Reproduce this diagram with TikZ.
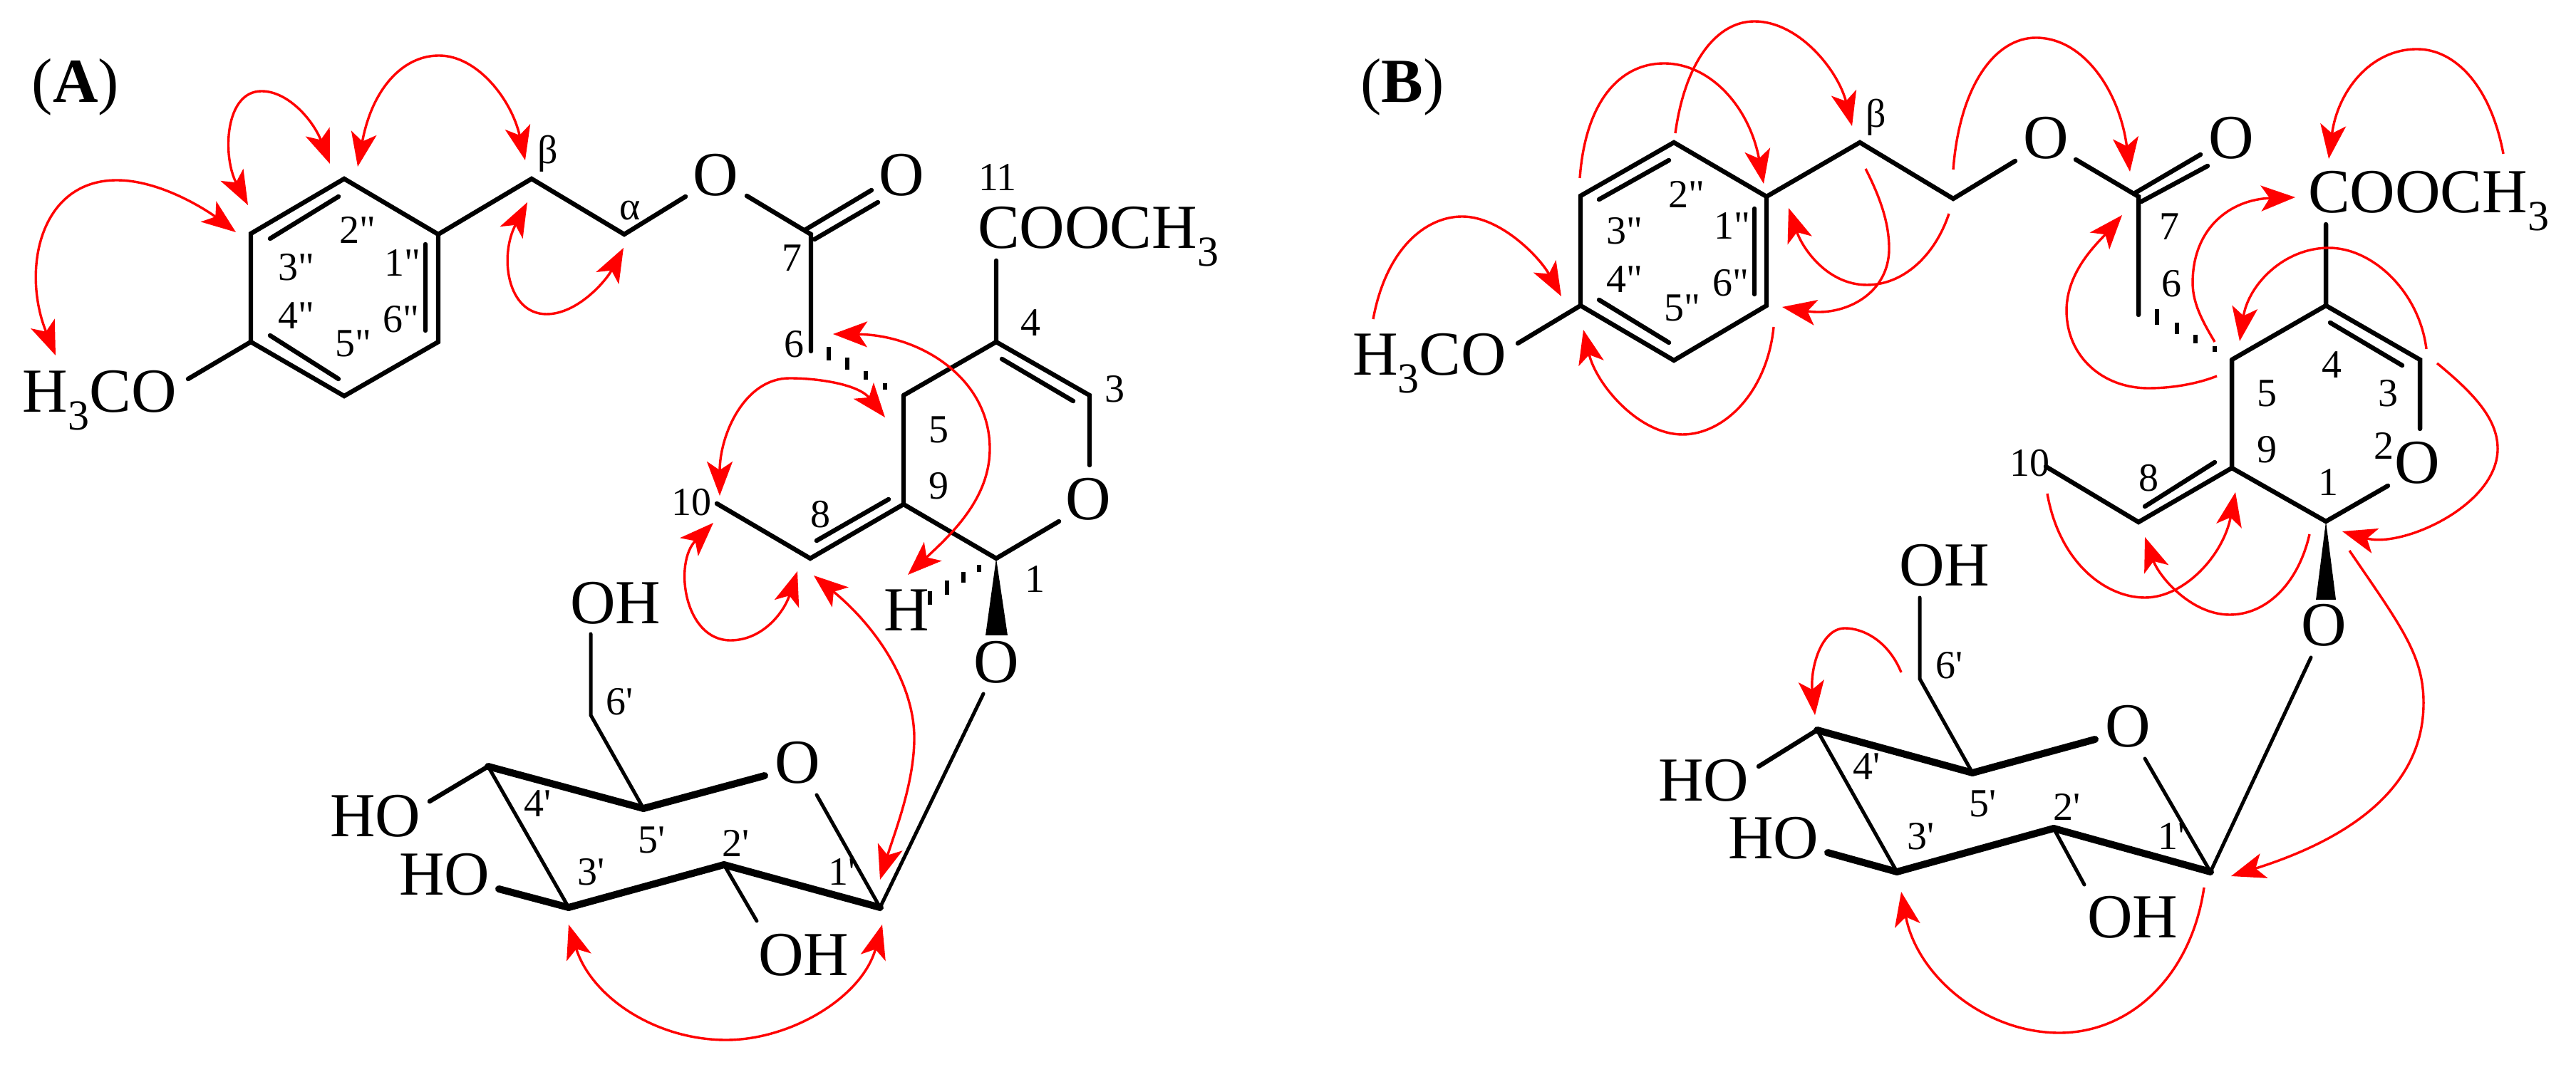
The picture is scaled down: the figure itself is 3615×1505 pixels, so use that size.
\documentclass[tikz,border=0pt]{standalone}
\usepackage{fontspec}
\usetikzlibrary{arrows.meta}
\newfontfamily\chemfont{Liberation Serif}
\newcommand{\subthree}{\raisebox{-0.28em}{\fontsize{15}{15}\selectfont 3}}
\tikzset{
  atom/.style={font=\chemfont\fontsize{22}{22}\selectfont,inner sep=0pt,outer sep=0pt},
  formula/.style={atom,anchor=base west},
  num/.style={font=\chemfont\fontsize{14}{14}\selectfont,inner sep=0pt,outer sep=0pt},
  bond/.style={draw=black,line width=1.6pt,line join=miter,line cap=round},
  thinbond/.style={draw=black,line width=1.25pt,line cap=round},
  boldbond/.style={draw=black,line width=2.5pt,line cap=round,line join=round},
  hash/.style={draw=black,line width=1.3pt},
  wedgebond/.style={fill=black,draw=none},
  onehead/.style={draw=red,line width=0.85pt,-{Stealth[length=12pt,width=9pt,inset=3pt]}},
  twohead/.style={draw=red,line width=0.85pt,{Stealth[length=12pt,width=9pt,inset=3pt]}-{Stealth[length=12pt,width=9pt,inset=3pt]}}
}
\begin{document}
\begin{tikzpicture}[x=0.25pt,y=-0.25pt]
\useasboundingbox (0,0) rectangle (3615,1505);
% ============ PANEL A ============
\node[atom] (Alab) at (106,122) {(\textbf{A})};
\foreach \n/\x/\y in {ar1/615/329,ar2/483/251,ar3/352/328,ar4/352/480,ar5/483/556,ar6/615/480,
  ab/746/251,aa/876/329,ac7/1138/329,ac6/1138/493,ac4/1398/480,ac3/1529/555,ac5/1268/555,ac9/1268/708,
  ac1/1398/784,ac8/1137/784,ac10/1006/707,
  as1/1235/1274,as2/1016/1214,as3/798/1274,as4/685/1076,as5/903/1135,as6/829/1004,
  ai1a/379/335,ai1b/475/276,ai2a/597/343,ai2b/597/464,ai3a/379/471,ai3b/475/532,
  aome/264/532,aoe1/962/276,aoe2/1048/275,aco1a/1131/322,aco1b/1223/267,aco2a/1143/336,aco2b/1232/284,
  acoo/1398/366,ai4a/1406/504,ai4b/1506/563,ao2a/1529/653,ao2b/1486/732,ai8a/1247/701,ai8b/1146/759,
  agl/1380/974,aso1/1073/1089,aso2/1146/1116,aoh6/829/890,aoh4/603/1125,aoh3/700/1248,aoh2/1062/1293,
  awl/1383/892,awr/1414/892}
  {\coordinate (\n) at (\x,\y);}
\draw[bond] (ar1)--(ar2)--(ar3)--(ar4)--(ar5)--(ar6)--cycle;
\draw[bond] (ai1a)--(ai1b) (ai2a)--(ai2b) (ai3a)--(ai3b) (ar4)--(aome);
\draw[bond] (ar1)--(ab)--(aa)--(aoe1) (aoe2)--(ac7)--(ac6);
\draw[bond] (aco1a)--(aco1b) (aco2a)--(aco2b) (acoo)--(ac4);
\draw[bond] (ac5)--(ac4)--(ac3)--(ao2a) (ai4a)--(ai4b) (ac5)--(ac9)--(ac1)--(ao2b);
\draw[bond] (ac10)--(ac8)--(ac9) (ai8a)--(ai8b);
\foreach \x/\a/\b in {1163/487/506,1189/502/519,1215/521/533,1242/538/547}{\draw[hash] (\x,\a)--(\x,\b);}
\foreach \x/\a/\b in {1305/830/849,1329/815/835,1352/803/818,1374/793/803}{\draw[hash] (\x,\a)--(\x,\b);}
\fill[wedgebond] (ac1)--(awr)--(awl)--cycle;
\draw[thinbond] (agl)--(as1)--(aso2) (as4)--(as3) (as2)--(aoh2) (as5)--(as6)--(aoh6);
\draw[boldbond] (as4)--(as5)--(aso1) (as1)--(as2)--(as3)--(aoh3);
\draw[bond] (as4)--(aoh4);
\node[atom] (aO1) at (1004,246) {O};
\node[atom] (aO2) at (1265,246) {O};
\node[atom] (aO3) at (1527,701) {O};
\node[atom] (aO4) at (1398,930) {O};
\node[atom] (aO5) at (1119,1071) {O};
\node[formula] (aOMe) at (32,579) {H\subthree CO};
\node[formula] (aCOOMe) at (1372,349) {COOCH\subthree};
\node[formula] (aH) at (1240,886) {H};
\node[formula] (aOH6) at (800,875) {OH};
\node[formula] (aHO4) at (463,1174) {HO};
\node[formula] (aHO3) at (560,1256) {HO};
\node[formula] (aOH2) at (1064,1369) {OH};
\foreach \n/\x/\y/\t in {n1/769/216/β,n2/884/296/α,n3/1111/362/7,n4/1114/483/6,n5/1400/249/11,n6/1446/453/4,
  n7/1564/546/3,n8/1317/603/5,n9/1317/682/9,n10/1151/722/8,n11/970/705/10,n12/1452/813/1,
  n13/502/323/2",n14/565/369/1",n15/416/375/3",n16/416/443/4",n17/563/448/6",n18/496/482/5",
  n19/870/985/6',n20/755/1128/4',n21/915/1179/5',n22/1033/1184/2',n23/830/1224/3',n24/1182/1224/1'}
  {\node[num] (a\n) at (\x,\y) {\t};}
% correlation arrows, panel A
\foreach \n/\x/\y in {h1s/78/499,h1t/164/253,h1e/331/326,h2s/348/288,h2t/367/128,h2e/463/230,
  h3s/502/234,h3t/616/78,h3e/737/225,h4s/740/284,h4t/767/441,h4e/875/348,
  h5s/1169/469,h5t/1389/630,h5e/1274/807,h6s/1242/586,h6t/1108/531,h6e/1010/696,
  h7s/1001/734,h7t/1025/899,h7e/1119/802,h8s/1142/808,h8t/1283/1036,h8e/1235/1235,
  h9s/798/1298,h9t/1019/1460,h9e/1238/1298}
  {\coordinate (\n) at (\x,\y);}
\draw[twohead] (h1s) .. controls (30,380) and (55,253) .. (h1t) .. controls (225,253) and (290,295) .. (h1e);
\draw[twohead] (h2s) .. controls (312,220) and (315,128) .. (h2t) .. controls (405,128) and (440,170) .. (h2e);
\draw[twohead] (h3s) .. controls (522,125) and (565,78) .. (h3t) .. controls (670,78) and (718,140) .. (h3e);
\draw[twohead] (h4s) .. controls (700,360) and (712,441) .. (h4t) .. controls (810,441) and (850,395) .. (h4e);
\draw[twohead] (h5s) .. controls (1290,470) and (1389,530) .. (h5t) .. controls (1389,700) and (1335,750) .. (h5e);
\draw[twohead] (h6s) .. controls (1205,540) and (1150,531) .. (h6t) .. controls (1045,531) and (1010,610) .. (h6e);
\draw[twohead] (h7s) .. controls (945,790) and (960,899) .. (h7t) .. controls (1070,899) and (1100,860) .. (h7e);
\draw[twohead] (h8s) .. controls (1230,880) and (1283,960) .. (h8t) .. controls (1283,1100) and (1255,1170) .. (h8e);
\draw[twohead] (h9s) .. controls (830,1400) and (920,1460) .. (h9t) .. controls (1110,1460) and (1210,1400) .. (h9e);
% ============ PANEL B ============
\node[atom] (Blab) at (1968,122) {(\textbf{B})};
\foreach \n/\x/\y in {br1/2479/276,br2/2349/200,br3/2218/275,br4/2218/429,br5/2349/506,br6/2479/429,
  bb/2610/200,ba/2741/279,bc7/3001/276,bc6/3001/442,bc4/3264/429,bc3/3396/505,bc5/3132/505,bc9/3132/657,
  bc1/3264/732,bc8/3001/733,bc10/2871/655,
  bs1/3102/1224,bs2/2882/1163,bs3/2662/1224,bs4/2550/1025,bs5/2768/1085,bs6/2694/953,
  bi1a/2244/280,bi1b/2342/225,bi2a/2462/293,bi2b/2462/413,bi3a/2244/421,bi3b/2342/481,
  bome/2130/482,boe1/2828/226,boe2/2913/224,bco1a/2996/271,bco1b/3088/217,bco2a/3005/283,bco2b/3098/233,
  bcoo/3264/315,bi4a/3270/453,bi4b/3371/513,bo2a/3396/602,bo2b/3351/682,bi8a/3108/649,bi8b/3010/711,
  bgl/3243/923,bso1/2940/1038,bso2/3010/1065,boh6/2694/839,boh4/2468/1076,boh3/2565/1197,boh2/2925/1242,
  bwl/3250/842,bwr/3278/842}
  {\coordinate (\n) at (\x,\y);}
\draw[bond] (br1)--(br2)--(br3)--(br4)--(br5)--(br6)--cycle;
\draw[bond] (bi1a)--(bi1b) (bi2a)--(bi2b) (bi3a)--(bi3b) (br4)--(bome);
\draw[bond] (br1)--(bb)--(ba)--(boe1) (boe2)--(bc7)--(bc6);
\draw[bond] (bco1a)--(bco1b) (bco2a)--(bco2b) (bcoo)--(bc4);
\draw[bond] (bc5)--(bc4)--(bc3)--(bo2a) (bi4a)--(bi4b) (bc5)--(bc9)--(bc1)--(bo2b);
\draw[bond] (bc10)--(bc8)--(bc9) (bi8a)--(bi8b);
\foreach \x/\a/\b in {3027/434/456,3055/453/469,3081/470/482,3108/486/494}{\draw[hash] (\x,\a)--(\x,\b);}
\fill[wedgebond] (bc1)--(bwr)--(bwl)--cycle;
\draw[thinbond] (bgl)--(bs1)--(bso2) (bs4)--(bs3) (bs2)--(boh2) (bs5)--(bs6)--(boh6);
\draw[boldbond] (bs4)--(bs5)--(bso1) (bs1)--(bs2)--(bs3)--(boh3);
\draw[bond] (bs4)--(boh4);
\node[atom] (bO1) at (2871,194) {O};
\node[atom] (bO2) at (3131,194) {O};
\node[atom] (bO3) at (3392,650) {O};
\node[atom] (bO4) at (3261,878) {O};
\node[atom] (bO5) at (2986,1020) {O};
\node[formula] (bOMe) at (1898,527) {H\subthree CO};
\node[formula] (bCOOMe) at (3239,299) {COOCH\subthree};
\node[formula] (bOH6) at (2665,823) {OH};
\node[formula] (bHO4) at (2327,1124) {HO};
\node[formula] (bHO3) at (2425,1205) {HO};
\node[formula] (bOH2) at (2929,1316) {OH};
\foreach \n/\x/\y/\t in {n1/2633/165/β,n3/3044/318/7,n4/3047/398/6,n6/3272/512/4,
  n7/3351/552/3,n8/3181/552/5,n9/3181/631/9,n10/3015/671/8,n11/2848/650/10,n12/3267/677/1,n25/3345/626/2,
  n13/2367/273/2",n14/2431/317/1",n15/2280/324/3",n16/2280/392/4",n17/2429/397/6",n18/2361/432/5",
  n19/2735/934/6',n20/2620/1076/4',n21/2782/1128/5',n22/2900/1133/2',n23/2695/1174/3',n24/3047/1174/1'}
  {\node[num] (b\n) at (\x,\y) {\t};}
% correlation arrows, panel B
\foreach \n/\x/\y in {ks/1927/448,kt/2052/304,ke/2191/416,
  ls/2217/250,lt/2335/89,le/2475/258, ms/2351/187,mt/2462/30,me/2599/177,
  os/2741/238,ot/2857/53,oe/2989/241, ps/3513/216,pt/3392/69,pe/3268/223,
  qs/2735/300,qt/2620/400,qe/2510/292, rs/2618/237,rt/2651/349,re/2501/431,
  ts/2489/459,tt/2361/610,te/2222/463, us/3111/528,ut/3015/545,uu/2900/436,ue/2978/302,
  vs/3108/480,vt/3077/397,ve/3221/277, ws/3405/490,wt/3268/348,we/3143/479,
  xs/3420/510,xt/3505/630,xe/3287/746, ys/2873/693,yt/3010/839,ye/3137/691,
  zs/3241/750,zt/3129/863,ze/3010/754, js/3297/773,jt/3401/987,je/3131/1230,
  fs/2668/944,ft/2589/882,fe/2547/1004, gs/3093/1246,gt/2890/1450,ge/2668/1252}
  {\coordinate (\n) at (\x,\y);}
\draw[onehead] (ks) .. controls (1945,350) and (2000,304) .. (kt) .. controls (2105,304) and (2160,360) .. (ke);
\draw[onehead] (ls) .. controls (2225,140) and (2275,89) .. (lt) .. controls (2400,89) and (2455,150) .. (le);
\draw[onehead] (ms) .. controls (2365,85) and (2410,30) .. (mt) .. controls (2525,30) and (2580,100) .. (me);
\draw[onehead] (os) .. controls (2750,120) and (2800,53) .. (ot) .. controls (2925,53) and (2975,130) .. (oe);
\draw[onehead] (ps) .. controls (3495,120) and (3445,69) .. (pt) .. controls (3325,69) and (3280,130) .. (pe);
\draw[onehead] (qs) .. controls (2715,360) and (2670,400) .. (qt) .. controls (2565,400) and (2530,350) .. (qe);
\draw[onehead] (rs) .. controls (2640,280) and (2651,315) .. (rt) .. controls (2651,415) and (2585,445) .. (re);
\draw[onehead] (ts) .. controls (2480,550) and (2420,610) .. (tt) .. controls (2300,610) and (2240,540) .. (te);
\draw[onehead] (us) .. controls (3080,540) and (3045,545) .. (ut) .. controls (2950,545) and (2900,500) .. (uu) .. controls (2900,380) and (2945,340) .. (ue);
\draw[onehead] (vs) .. controls (3090,450) and (3077,425) .. (vt) .. controls (3077,320) and (3130,280) .. (ve);
\draw[onehead] (ws) .. controls (3395,410) and (3330,348) .. (wt) .. controls (3205,348) and (3155,400) .. (we);
\draw[onehead] (xs) .. controls (3475,555) and (3505,590) .. (xt) .. controls (3505,710) and (3370,770) .. (xe);
\draw[onehead] (ys) .. controls (2890,790) and (2955,839) .. (yt) .. controls (3065,839) and (3120,780) .. (ye);
\draw[onehead] (zs) .. controls (3225,820) and (3180,863) .. (zt) .. controls (3075,863) and (3030,810) .. (ze);
\draw[onehead] (js) .. controls (3370,880) and (3401,920) .. (jt) .. controls (3401,1110) and (3290,1180) .. (je);
\draw[onehead] (fs) .. controls (2650,900) and (2615,882) .. (ft) .. controls (2555,882) and (2540,940) .. (fe);
\draw[onehead] (gs) .. controls (3075,1370) and (2990,1450) .. (gt) .. controls (2785,1450) and (2690,1370) .. (ge);
\end{tikzpicture}
\end{document}
